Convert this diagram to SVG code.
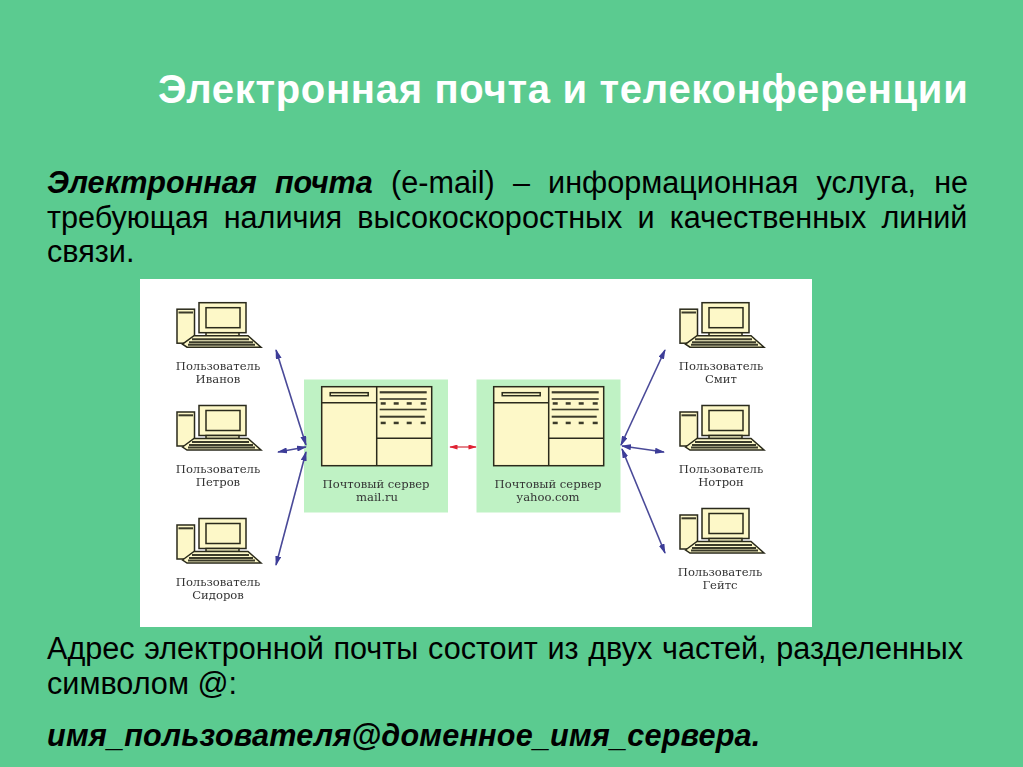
<svg xmlns="http://www.w3.org/2000/svg" xmlns:xlink="http://www.w3.org/1999/xlink" width="1023" height="767" viewBox="0 0 1023 767">
<style>
.t{font-family:"Liberation Sans",Arial,sans-serif;fill:#000;font-size:30.6px}
.l{font-family:"DejaVu Serif","Liberation Serif",serif;fill:#333;font-size:11.6px;text-anchor:middle}
.o{stroke:#2a2a1a;stroke-width:1.5;fill:#fdf8c8}
.d{fill:#3a3a2a}
.b{stroke:#4a4a98;stroke-width:1.6;fill:none;marker-start:url(#mb);marker-end:url(#mb)}
.r{stroke:#d8505a;stroke-width:1.4;fill:none;marker-start:url(#mr);marker-end:url(#mr)}
</style>
<defs>
<filter id="soft" x="-2%" y="-2%" width="104%" height="104%"><feGaussianBlur stdDeviation="0.4"/></filter>
<marker id="mb" viewBox="0 0 10 6" refX="9" refY="3" markerWidth="10" markerHeight="6" markerUnits="userSpaceOnUse" orient="auto-start-reverse"><path d="M0 0L10 3L0 6Z" fill="#3c3c98"/></marker>
<marker id="mr" viewBox="0 0 10 6" refX="9" refY="3" markerWidth="9" markerHeight="5" markerUnits="userSpaceOnUse" orient="auto-start-reverse"><path d="M0 0L10 3L0 6Z" fill="#e02030"/></marker>
<g id="pc">
<rect class="o" x="-22" y="6.500" width="17.500" height="34"/>
<rect class="d" x="-20.500" y="8.800" width="14.500" height="2"/>
<rect class="o" x="0" y="0" width="47" height="30"/>
<rect class="o" x="7" y="5" width="34" height="20"/>
<path class="o" d="M7 30h33v3h-33z"/>
<path class="o" d="M-16.500 41.500L-5 33H49L62 44.500H-12Z"/>
<path d="M-7 36.500H50M-10 39.500H54M-11 42H56" stroke="#3a3a2a" stroke-width="2" fill="none"/>
</g>
<g id="srv">
<rect class="o" x="0" y="0" width="110" height="79"/>
<path class="o" d="M55 0V79M0 16H55M55 51.500H110" fill="none"/>
<rect class="o" x="8.500" y="6" width="38" height="3"/>
<rect class="d" x="58" y="4.500" width="47" height="2.200"/>
<rect class="d" x="58" y="11.500" width="47" height="1.600"/>
<rect class="d" x="58" y="22" width="47" height="1.600"/>
<rect class="d" x="58" y="29" width="45" height="2"/>
<g class="d"><rect x="59" y="15.500" width="5" height="2.500"/><rect x="72" y="15.500" width="5" height="2.500"/><rect x="85" y="15.500" width="5" height="2.500"/><rect x="99" y="15.500" width="5" height="2.500"/></g>
<g class="d"><rect x="59" y="35" width="5" height="2.500"/><rect x="72" y="35" width="5" height="2.500"/><rect x="85" y="35" width="5" height="2.500"/><rect x="99" y="35" width="5" height="2.500"/></g>
</g>
</defs>
<rect width="1023" height="767" fill="#5bcb90"/>
<text id="title" x="158" y="103" font-family="'Liberation Sans',Arial,sans-serif" font-size="40" font-weight="bold" letter-spacing="0.7" fill="#fff">Электронная почта и телеконференции</text>
<g id="para1">
<text class="t" x="47" y="193" word-spacing="9.700"><tspan font-weight="bold" font-style="italic">Электронная почта</tspan> (e-mail) – информационная услуга, не</text>
<text class="t" x="47" y="228" word-spacing="6.600">требующая наличия высокоскоростных и качественных линий</text>
<text class="t" x="47" y="262">связи.</text>
</g>
<rect id="panel" x="140" y="279" width="672" height="348" fill="#fff"/>
<g filter="url(#soft)">
<g id="srv1"><rect x="304" y="379.500" width="144" height="133" fill="#bff2c4"/><use xlink:href="#srv" href="#srv" x="321.700" y="386.700"/><text class="l" x="376" y="488">Почтовый сервер</text><text class="l" x="377" y="501">mail.ru</text></g>
<g id="srv2"><rect x="476.500" y="379.500" width="144" height="133" fill="#bff2c4"/><use xlink:href="#srv" href="#srv" x="493.700" y="386.700"/><text class="l" x="548" y="488">Почтовый сервер</text><text class="l" x="548" y="501">yahoo.com</text></g>
<g id="u1"><use href="#pc" x="199" y="302.700"/><text class="l" x="218" y="370">Пользователь</text><text class="l" x="218" y="383">Иванов</text></g>
<g id="u2"><use href="#pc" x="199" y="405.500"/><text class="l" x="218" y="473">Пользователь</text><text class="l" x="218" y="486">Петров</text></g>
<g id="u3"><use href="#pc" x="199" y="518.500"/><text class="l" x="218" y="586">Пользователь</text><text class="l" x="218" y="599">Сидоров</text></g>
<g id="u4"><use href="#pc" x="702" y="302.700"/><text class="l" x="721" y="370">Пользователь</text><text class="l" x="721" y="383">Смит</text></g>
<g id="u5"><use href="#pc" x="702" y="405.500"/><text class="l" x="721" y="473">Пользователь</text><text class="l" x="721" y="486">Нотрон</text></g>
<g id="u6"><use href="#pc" x="702" y="508.500"/><text class="l" x="720" y="576">Пользователь</text><text class="l" x="720" y="589">Гейтс</text></g>
<g id="connectors">
<path class="b" d="M276 350L306 445"/>
<path class="b" d="M278 452L306 447"/>
<path class="b" d="M276 565L306 452"/>
<path class="b" d="M665 350L621 445"/>
<path class="b" d="M664 452L622 446"/>
<path class="b" d="M665 553L622 449"/>
<path class="r" d="M450 447H476"/>
</g>
</g>
<g id="para2">
<text class="t" x="47" y="659" word-spacing="1.200">Адрес электронной почты состоит из двух частей, разделенных</text>
<text class="t" x="47" y="694">символом @:</text>
</g>
<text id="addr" class="t" x="47" y="746" font-weight="bold" font-style="italic" letter-spacing="0.200">имя_пользователя@доменное_имя_сервера.</text>
</svg>
